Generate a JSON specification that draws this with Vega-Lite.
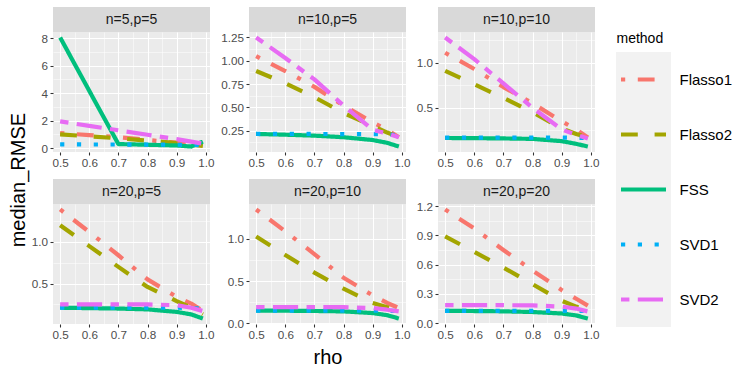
{
"$schema": "https://vega.github.io/schema/vega-lite/v6.json",
"autosize": {"type": "pad"},
"padding": {"left": 9, "top": 7, "right": 0, "bottom": 0},
"background": "white",
"config": {
  "font": "Liberation Sans",
  "view": {"stroke": null},
  "axis": {"domain": false, "tickColor": "#333333", "tickSize": 3, "tickWidth": 1.07, "labelColor": "#4D4D4D", "labelFontSize": 11.7, "labelPadding": 2.5, "labelFlush": false, "labelOverlap": false, "labelBound": false, "gridColor": "#FFFFFF", "titleFontWeight": "normal", "titleColor": "#000000", "titleFontSize": 20}
},
"datasets": {
  "panels": [{"panel": "n=5,p=5"}, {"panel": "n=10,p=5"}, {"panel": "n=10,p=10"}, {"panel": "n=20,p=5"}, {"panel": "n=20,p=10"}, {"panel": "n=20,p=20"}],
  "methods": [{"method": "Flasso1"}, {"method": "Flasso2"}, {"method": "FSS"}, {"method": "SVD1"}, {"method": "SVD2"}],
  "rmse": [
{"panel":"n=5,p=5","method":"Flasso1","rho":0.5,"median_RMSE":1.1},{"panel":"n=5,p=5","method":"Flasso1","rho":0.6,"median_RMSE":0.95},{"panel":"n=5,p=5","method":"Flasso1","rho":0.7,"median_RMSE":0.8},{"panel":"n=5,p=5","method":"Flasso1","rho":0.8,"median_RMSE":0.6},{"panel":"n=5,p=5","method":"Flasso1","rho":0.9,"median_RMSE":0.4},{"panel":"n=5,p=5","method":"Flasso1","rho":0.95,"median_RMSE":0.3},{"panel":"n=5,p=5","method":"Flasso1","rho":0.99,"median_RMSE":0.2},
{"panel":"n=5,p=5","method":"Flasso2","rho":0.5,"median_RMSE":1.0},{"panel":"n=5,p=5","method":"Flasso2","rho":0.6,"median_RMSE":0.87},{"panel":"n=5,p=5","method":"Flasso2","rho":0.7,"median_RMSE":0.72},{"panel":"n=5,p=5","method":"Flasso2","rho":0.8,"median_RMSE":0.55},{"panel":"n=5,p=5","method":"Flasso2","rho":0.9,"median_RMSE":0.38},{"panel":"n=5,p=5","method":"Flasso2","rho":0.95,"median_RMSE":0.27},{"panel":"n=5,p=5","method":"Flasso2","rho":0.99,"median_RMSE":0.17},
{"panel":"n=5,p=5","method":"FSS","rho":0.5,"median_RMSE":8.05},{"panel":"n=5,p=5","method":"FSS","rho":0.6,"median_RMSE":4.17},{"panel":"n=5,p=5","method":"FSS","rho":0.7,"median_RMSE":0.3},{"panel":"n=5,p=5","method":"FSS","rho":0.8,"median_RMSE":0.25},{"panel":"n=5,p=5","method":"FSS","rho":0.9,"median_RMSE":0.2},{"panel":"n=5,p=5","method":"FSS","rho":0.95,"median_RMSE":0.12},{"panel":"n=5,p=5","method":"FSS","rho":0.99,"median_RMSE":0.48},
{"panel":"n=5,p=5","method":"SVD1","rho":0.5,"median_RMSE":0.28},{"panel":"n=5,p=5","method":"SVD1","rho":0.6,"median_RMSE":0.27},{"panel":"n=5,p=5","method":"SVD1","rho":0.7,"median_RMSE":0.27},{"panel":"n=5,p=5","method":"SVD1","rho":0.8,"median_RMSE":0.26},{"panel":"n=5,p=5","method":"SVD1","rho":0.9,"median_RMSE":0.25},{"panel":"n=5,p=5","method":"SVD1","rho":0.95,"median_RMSE":0.24},{"panel":"n=5,p=5","method":"SVD1","rho":0.99,"median_RMSE":0.22},
{"panel":"n=5,p=5","method":"SVD2","rho":0.5,"median_RMSE":1.95},{"panel":"n=5,p=5","method":"SVD2","rho":0.6,"median_RMSE":1.62},{"panel":"n=5,p=5","method":"SVD2","rho":0.7,"median_RMSE":1.3},{"panel":"n=5,p=5","method":"SVD2","rho":0.8,"median_RMSE":0.98},{"panel":"n=5,p=5","method":"SVD2","rho":0.9,"median_RMSE":0.66},{"panel":"n=5,p=5","method":"SVD2","rho":0.95,"median_RMSE":0.48},{"panel":"n=5,p=5","method":"SVD2","rho":0.99,"median_RMSE":0.33},

{"panel":"n=10,p=5","method":"Flasso1","rho":0.5,"median_RMSE":1.05},{"panel":"n=10,p=5","method":"Flasso1","rho":0.6,"median_RMSE":0.89},{"panel":"n=10,p=5","method":"Flasso1","rho":0.7,"median_RMSE":0.72},{"panel":"n=10,p=5","method":"Flasso1","rho":0.8,"median_RMSE":0.52},{"panel":"n=10,p=5","method":"Flasso1","rho":0.9,"median_RMSE":0.34},{"panel":"n=10,p=5","method":"Flasso1","rho":0.95,"median_RMSE":0.26},{"panel":"n=10,p=5","method":"Flasso1","rho":0.99,"median_RMSE":0.18},
{"panel":"n=10,p=5","method":"Flasso2","rho":0.5,"median_RMSE":0.89},{"panel":"n=10,p=5","method":"Flasso2","rho":0.6,"median_RMSE":0.76},{"panel":"n=10,p=5","method":"Flasso2","rho":0.7,"median_RMSE":0.61},{"panel":"n=10,p=5","method":"Flasso2","rho":0.8,"median_RMSE":0.44},{"panel":"n=10,p=5","method":"Flasso2","rho":0.9,"median_RMSE":0.3},{"panel":"n=10,p=5","method":"Flasso2","rho":0.95,"median_RMSE":0.23},{"panel":"n=10,p=5","method":"Flasso2","rho":0.99,"median_RMSE":0.18},
{"panel":"n=10,p=5","method":"FSS","rho":0.5,"median_RMSE":0.215},{"panel":"n=10,p=5","method":"FSS","rho":0.6,"median_RMSE":0.207},{"panel":"n=10,p=5","method":"FSS","rho":0.7,"median_RMSE":0.197},{"panel":"n=10,p=5","method":"FSS","rho":0.8,"median_RMSE":0.18},{"panel":"n=10,p=5","method":"FSS","rho":0.9,"median_RMSE":0.15},{"panel":"n=10,p=5","method":"FSS","rho":0.95,"median_RMSE":0.12},{"panel":"n=10,p=5","method":"FSS","rho":0.99,"median_RMSE":0.08},
{"panel":"n=10,p=5","method":"SVD1","rho":0.5,"median_RMSE":0.215},{"panel":"n=10,p=5","method":"SVD1","rho":0.6,"median_RMSE":0.215},{"panel":"n=10,p=5","method":"SVD1","rho":0.7,"median_RMSE":0.215},{"panel":"n=10,p=5","method":"SVD1","rho":0.8,"median_RMSE":0.214},{"panel":"n=10,p=5","method":"SVD1","rho":0.9,"median_RMSE":0.213},{"panel":"n=10,p=5","method":"SVD1","rho":0.95,"median_RMSE":0.21},{"panel":"n=10,p=5","method":"SVD1","rho":0.99,"median_RMSE":0.2},
{"panel":"n=10,p=5","method":"SVD2","rho":0.5,"median_RMSE":1.25},{"panel":"n=10,p=5","method":"SVD2","rho":0.6,"median_RMSE":1.03},{"panel":"n=10,p=5","method":"SVD2","rho":0.7,"median_RMSE":0.8},{"panel":"n=10,p=5","method":"SVD2","rho":0.8,"median_RMSE":0.52},{"panel":"n=10,p=5","method":"SVD2","rho":0.9,"median_RMSE":0.26},{"panel":"n=10,p=5","method":"SVD2","rho":0.95,"median_RMSE":0.22},{"panel":"n=10,p=5","method":"SVD2","rho":0.99,"median_RMSE":0.18},

{"panel":"n=10,p=10","method":"Flasso1","rho":0.5,"median_RMSE":1.11},{"panel":"n=10,p=10","method":"Flasso1","rho":0.6,"median_RMSE":0.93},{"panel":"n=10,p=10","method":"Flasso1","rho":0.7,"median_RMSE":0.73},{"panel":"n=10,p=10","method":"Flasso1","rho":0.8,"median_RMSE":0.55},{"panel":"n=10,p=10","method":"Flasso1","rho":0.9,"median_RMSE":0.35},{"panel":"n=10,p=10","method":"Flasso1","rho":0.95,"median_RMSE":0.26},{"panel":"n=10,p=10","method":"Flasso1","rho":0.99,"median_RMSE":0.17},
{"panel":"n=10,p=10","method":"Flasso2","rho":0.5,"median_RMSE":0.91},{"panel":"n=10,p=10","method":"Flasso2","rho":0.6,"median_RMSE":0.76},{"panel":"n=10,p=10","method":"Flasso2","rho":0.7,"median_RMSE":0.61},{"panel":"n=10,p=10","method":"Flasso2","rho":0.8,"median_RMSE":0.45},{"panel":"n=10,p=10","method":"Flasso2","rho":0.9,"median_RMSE":0.27},{"panel":"n=10,p=10","method":"Flasso2","rho":0.95,"median_RMSE":0.21},{"panel":"n=10,p=10","method":"Flasso2","rho":0.99,"median_RMSE":0.17},
{"panel":"n=10,p=10","method":"FSS","rho":0.5,"median_RMSE":0.165},{"panel":"n=10,p=10","method":"FSS","rho":0.6,"median_RMSE":0.163},{"panel":"n=10,p=10","method":"FSS","rho":0.7,"median_RMSE":0.16},{"panel":"n=10,p=10","method":"FSS","rho":0.8,"median_RMSE":0.155},{"panel":"n=10,p=10","method":"FSS","rho":0.9,"median_RMSE":0.13},{"panel":"n=10,p=10","method":"FSS","rho":0.95,"median_RMSE":0.1},{"panel":"n=10,p=10","method":"FSS","rho":0.99,"median_RMSE":0.07},
{"panel":"n=10,p=10","method":"SVD1","rho":0.5,"median_RMSE":0.17},{"panel":"n=10,p=10","method":"SVD1","rho":0.6,"median_RMSE":0.17},{"panel":"n=10,p=10","method":"SVD1","rho":0.7,"median_RMSE":0.17},{"panel":"n=10,p=10","method":"SVD1","rho":0.8,"median_RMSE":0.17},{"panel":"n=10,p=10","method":"SVD1","rho":0.9,"median_RMSE":0.17},{"panel":"n=10,p=10","method":"SVD1","rho":0.95,"median_RMSE":0.168},{"panel":"n=10,p=10","method":"SVD1","rho":0.99,"median_RMSE":0.165},
{"panel":"n=10,p=10","method":"SVD2","rho":0.5,"median_RMSE":1.28},{"panel":"n=10,p=10","method":"SVD2","rho":0.6,"median_RMSE":1.04},{"panel":"n=10,p=10","method":"SVD2","rho":0.7,"median_RMSE":0.77},{"panel":"n=10,p=10","method":"SVD2","rho":0.8,"median_RMSE":0.5},{"panel":"n=10,p=10","method":"SVD2","rho":0.9,"median_RMSE":0.26},{"panel":"n=10,p=10","method":"SVD2","rho":0.95,"median_RMSE":0.2},{"panel":"n=10,p=10","method":"SVD2","rho":0.99,"median_RMSE":0.16},

{"panel":"n=20,p=5","method":"Flasso1","rho":0.5,"median_RMSE":1.39},{"panel":"n=20,p=5","method":"Flasso1","rho":0.6,"median_RMSE":1.12},{"panel":"n=20,p=5","method":"Flasso1","rho":0.7,"median_RMSE":0.84},{"panel":"n=20,p=5","method":"Flasso1","rho":0.8,"median_RMSE":0.55},{"panel":"n=20,p=5","method":"Flasso1","rho":0.9,"median_RMSE":0.34},{"panel":"n=20,p=5","method":"Flasso1","rho":0.95,"median_RMSE":0.26},{"panel":"n=20,p=5","method":"Flasso1","rho":0.99,"median_RMSE":0.17},
{"panel":"n=20,p=5","method":"Flasso2","rho":0.5,"median_RMSE":1.2},{"panel":"n=20,p=5","method":"Flasso2","rho":0.6,"median_RMSE":0.95},{"panel":"n=20,p=5","method":"Flasso2","rho":0.7,"median_RMSE":0.7},{"panel":"n=20,p=5","method":"Flasso2","rho":0.8,"median_RMSE":0.46},{"panel":"n=20,p=5","method":"Flasso2","rho":0.9,"median_RMSE":0.29},{"panel":"n=20,p=5","method":"Flasso2","rho":0.95,"median_RMSE":0.21},{"panel":"n=20,p=5","method":"Flasso2","rho":0.99,"median_RMSE":0.13},
{"panel":"n=20,p=5","method":"FSS","rho":0.5,"median_RMSE":0.21},{"panel":"n=20,p=5","method":"FSS","rho":0.6,"median_RMSE":0.205},{"panel":"n=20,p=5","method":"FSS","rho":0.7,"median_RMSE":0.2},{"panel":"n=20,p=5","method":"FSS","rho":0.8,"median_RMSE":0.19},{"panel":"n=20,p=5","method":"FSS","rho":0.9,"median_RMSE":0.16},{"panel":"n=20,p=5","method":"FSS","rho":0.95,"median_RMSE":0.13},{"panel":"n=20,p=5","method":"FSS","rho":0.99,"median_RMSE":0.08},
{"panel":"n=20,p=5","method":"SVD1","rho":0.5,"median_RMSE":0.21},{"panel":"n=20,p=5","method":"SVD1","rho":0.6,"median_RMSE":0.21},{"panel":"n=20,p=5","method":"SVD1","rho":0.7,"median_RMSE":0.21},{"panel":"n=20,p=5","method":"SVD1","rho":0.8,"median_RMSE":0.21},{"panel":"n=20,p=5","method":"SVD1","rho":0.9,"median_RMSE":0.21},{"panel":"n=20,p=5","method":"SVD1","rho":0.95,"median_RMSE":0.205},{"panel":"n=20,p=5","method":"SVD1","rho":0.99,"median_RMSE":0.2},
{"panel":"n=20,p=5","method":"SVD2","rho":0.5,"median_RMSE":0.25},{"panel":"n=20,p=5","method":"SVD2","rho":0.6,"median_RMSE":0.25},{"panel":"n=20,p=5","method":"SVD2","rho":0.7,"median_RMSE":0.25},{"panel":"n=20,p=5","method":"SVD2","rho":0.8,"median_RMSE":0.25},{"panel":"n=20,p=5","method":"SVD2","rho":0.9,"median_RMSE":0.24},{"panel":"n=20,p=5","method":"SVD2","rho":0.95,"median_RMSE":0.21},{"panel":"n=20,p=5","method":"SVD2","rho":0.99,"median_RMSE":0.17},

{"panel":"n=20,p=10","method":"Flasso1","rho":0.5,"median_RMSE":1.35},{"panel":"n=20,p=10","method":"Flasso1","rho":0.6,"median_RMSE":1.09},{"panel":"n=20,p=10","method":"Flasso1","rho":0.7,"median_RMSE":0.82},{"panel":"n=20,p=10","method":"Flasso1","rho":0.8,"median_RMSE":0.54},{"panel":"n=20,p=10","method":"Flasso1","rho":0.9,"median_RMSE":0.33},{"panel":"n=20,p=10","method":"Flasso1","rho":0.95,"median_RMSE":0.24},{"panel":"n=20,p=10","method":"Flasso1","rho":0.99,"median_RMSE":0.18},
{"panel":"n=20,p=10","method":"Flasso2","rho":0.5,"median_RMSE":1.03},{"panel":"n=20,p=10","method":"Flasso2","rho":0.6,"median_RMSE":0.81},{"panel":"n=20,p=10","method":"Flasso2","rho":0.7,"median_RMSE":0.6},{"panel":"n=20,p=10","method":"Flasso2","rho":0.8,"median_RMSE":0.41},{"panel":"n=20,p=10","method":"Flasso2","rho":0.9,"median_RMSE":0.24},{"panel":"n=20,p=10","method":"Flasso2","rho":0.95,"median_RMSE":0.19},{"panel":"n=20,p=10","method":"Flasso2","rho":0.99,"median_RMSE":0.15},
{"panel":"n=20,p=10","method":"FSS","rho":0.5,"median_RMSE":0.15},{"panel":"n=20,p=10","method":"FSS","rho":0.6,"median_RMSE":0.148},{"panel":"n=20,p=10","method":"FSS","rho":0.7,"median_RMSE":0.145},{"panel":"n=20,p=10","method":"FSS","rho":0.8,"median_RMSE":0.14},{"panel":"n=20,p=10","method":"FSS","rho":0.9,"median_RMSE":0.12},{"panel":"n=20,p=10","method":"FSS","rho":0.95,"median_RMSE":0.095},{"panel":"n=20,p=10","method":"FSS","rho":0.99,"median_RMSE":0.055},
{"panel":"n=20,p=10","method":"SVD1","rho":0.5,"median_RMSE":0.15},{"panel":"n=20,p=10","method":"SVD1","rho":0.6,"median_RMSE":0.15},{"panel":"n=20,p=10","method":"SVD1","rho":0.7,"median_RMSE":0.15},{"panel":"n=20,p=10","method":"SVD1","rho":0.8,"median_RMSE":0.15},{"panel":"n=20,p=10","method":"SVD1","rho":0.9,"median_RMSE":0.15},{"panel":"n=20,p=10","method":"SVD1","rho":0.95,"median_RMSE":0.148},{"panel":"n=20,p=10","method":"SVD1","rho":0.99,"median_RMSE":0.145},
{"panel":"n=20,p=10","method":"SVD2","rho":0.5,"median_RMSE":0.19},{"panel":"n=20,p=10","method":"SVD2","rho":0.6,"median_RMSE":0.19},{"panel":"n=20,p=10","method":"SVD2","rho":0.7,"median_RMSE":0.19},{"panel":"n=20,p=10","method":"SVD2","rho":0.8,"median_RMSE":0.19},{"panel":"n=20,p=10","method":"SVD2","rho":0.9,"median_RMSE":0.18},{"panel":"n=20,p=10","method":"SVD2","rho":0.95,"median_RMSE":0.16},{"panel":"n=20,p=10","method":"SVD2","rho":0.99,"median_RMSE":0.14},

{"panel":"n=20,p=20","method":"Flasso1","rho":0.5,"median_RMSE":1.165},{"panel":"n=20,p=20","method":"Flasso1","rho":0.6,"median_RMSE":0.97},{"panel":"n=20,p=20","method":"Flasso1","rho":0.7,"median_RMSE":0.75},{"panel":"n=20,p=20","method":"Flasso1","rho":0.8,"median_RMSE":0.54},{"panel":"n=20,p=20","method":"Flasso1","rho":0.9,"median_RMSE":0.34},{"panel":"n=20,p=20","method":"Flasso1","rho":0.95,"median_RMSE":0.25},{"panel":"n=20,p=20","method":"Flasso1","rho":0.99,"median_RMSE":0.18},
{"panel":"n=20,p=20","method":"Flasso2","rho":0.5,"median_RMSE":0.89},{"panel":"n=20,p=20","method":"Flasso2","rho":0.6,"median_RMSE":0.73},{"panel":"n=20,p=20","method":"Flasso2","rho":0.7,"median_RMSE":0.57},{"panel":"n=20,p=20","method":"Flasso2","rho":0.8,"median_RMSE":0.4},{"panel":"n=20,p=20","method":"Flasso2","rho":0.9,"median_RMSE":0.23},{"panel":"n=20,p=20","method":"Flasso2","rho":0.95,"median_RMSE":0.17},{"panel":"n=20,p=20","method":"Flasso2","rho":0.99,"median_RMSE":0.14},
{"panel":"n=20,p=20","method":"FSS","rho":0.5,"median_RMSE":0.127},{"panel":"n=20,p=20","method":"FSS","rho":0.6,"median_RMSE":0.125},{"panel":"n=20,p=20","method":"FSS","rho":0.7,"median_RMSE":0.122},{"panel":"n=20,p=20","method":"FSS","rho":0.8,"median_RMSE":0.115},{"panel":"n=20,p=20","method":"FSS","rho":0.9,"median_RMSE":0.1},{"panel":"n=20,p=20","method":"FSS","rho":0.95,"median_RMSE":0.08},{"panel":"n=20,p=20","method":"FSS","rho":0.99,"median_RMSE":0.048},
{"panel":"n=20,p=20","method":"SVD1","rho":0.5,"median_RMSE":0.127},{"panel":"n=20,p=20","method":"SVD1","rho":0.6,"median_RMSE":0.127},{"panel":"n=20,p=20","method":"SVD1","rho":0.7,"median_RMSE":0.127},{"panel":"n=20,p=20","method":"SVD1","rho":0.8,"median_RMSE":0.127},{"panel":"n=20,p=20","method":"SVD1","rho":0.9,"median_RMSE":0.127},{"panel":"n=20,p=20","method":"SVD1","rho":0.95,"median_RMSE":0.126},{"panel":"n=20,p=20","method":"SVD1","rho":0.99,"median_RMSE":0.125},
{"panel":"n=20,p=20","method":"SVD2","rho":0.5,"median_RMSE":0.185},{"panel":"n=20,p=20","method":"SVD2","rho":0.6,"median_RMSE":0.185},{"panel":"n=20,p=20","method":"SVD2","rho":0.7,"median_RMSE":0.185},{"panel":"n=20,p=20","method":"SVD2","rho":0.8,"median_RMSE":0.183},{"panel":"n=20,p=20","method":"SVD2","rho":0.9,"median_RMSE":0.17},{"panel":"n=20,p=20","method":"SVD2","rho":0.95,"median_RMSE":0.15},{"panel":"n=20,p=20","method":"SVD2","rho":0.99,"median_RMSE":0.12}
  ]
},
"title": {"text": "median_RMSE", "orient": "left", "anchor": "middle", "fontSize": 20, "fontWeight": "normal", "color": "#000000", "offset": 2, "dx": 7},
"spacing": 17,
"hconcat": [
{
  "columns": 3,
  "spacing": {"column": 6, "row": 9},
  "concat": [
    {"spacing": 0, "bounds": "flush", "vconcat": [
      {"data": {"name": "panels"}, "transform": [{"filter": "datum.panel === 'n=5,p=5'"}], "width": 157, "height": 25, "view": {"fill": "#D9D9D9", "stroke": null}, "mark": {"type": "text", "fontSize": 14, "color": "#1A1A1A", "baseline": "middle"}, "encoding": {"text": {"field": "panel"}}},
      {"data": {"name": "rmse"}, "transform": [{"filter": "datum.panel === 'n=5,p=5'"}], "width": 157, "height": 120, "view": {"fill": "#EBEBEB", "stroke": null},
       "mark": {"type": "line", "strokeWidth": 4.2, "strokeCap": "butt", "strokeJoin": "round"},
       "encoding": {
        "x": {"field": "rho", "type": "quantitative", "scale": {"zero": false, "nice": false, "padding": 7.14}, "axis": {"title": null, "values": [0.5,0.55,0.6,0.65,0.7,0.75,0.8,0.85,0.9,0.95,1.0], "labelExpr": "abs(datum.value*10-round(datum.value*10))<0.001 ? format(datum.value,'.1f') : ''", "gridWidth": {"condition": {"test": "abs(datum.value*10-round(datum.value*10))<0.001", "value": 1.07}, "value": 0.53}, "tickOpacity": {"condition": {"test": "abs(datum.value*10-round(datum.value*10))<0.001", "value": 1}, "value": 0}}},
        "y": {"field": "median_RMSE", "type": "quantitative", "scale": {"zero": false, "nice": false, "padding": 5.45}, "axis": {"title": null, "values": [0,1,2,3,4,5,6,7,8], "labelExpr": "datum.value % 2 == 0 ? format(datum.value,'d') : ''", "gridWidth": {"condition": {"test": "datum.value % 2 == 0", "value": 1.07}, "value": 0.53}, "tickOpacity": {"condition": {"test": "datum.value % 2 == 0", "value": 1}, "value": 0}}},
        "color": {"field": "method", "type": "nominal", "scale": {"domain": ["Flasso1","Flasso2","FSS","SVD1","SVD2"], "range": ["#F8766D","#A3A500","#00BF7D","#00B0F6","#E76BF3"]}, "legend": null},
        "strokeDash": {"field": "method", "type": "nominal", "scale": {"domain": ["Flasso1","Flasso2","FSS","SVD1","SVD2"], "range": [[4.2,12.6,16.8,12.6],[16.8,16.8],[1,0],[4.2,12.6],[8.4,8.4,25.2,8.4]]}, "legend": null}
       }}
    ]},
    {"spacing": 0, "bounds": "flush", "vconcat": [
      {"data": {"name": "panels"}, "transform": [{"filter": "datum.panel === 'n=10,p=5'"}], "width": 157, "height": 25, "view": {"fill": "#D9D9D9", "stroke": null}, "mark": {"type": "text", "fontSize": 14, "color": "#1A1A1A", "baseline": "middle"}, "encoding": {"text": {"field": "panel"}}},
      {"data": {"name": "rmse"}, "transform": [{"filter": "datum.panel === 'n=10,p=5'"}], "width": 157, "height": 120, "view": {"fill": "#EBEBEB", "stroke": null},
       "mark": {"type": "line", "strokeWidth": 4.2, "strokeCap": "butt", "strokeJoin": "round"},
       "encoding": {
        "x": {"field": "rho", "type": "quantitative", "scale": {"zero": false, "nice": false, "padding": 7.14}, "axis": {"title": null, "values": [0.5,0.55,0.6,0.65,0.7,0.75,0.8,0.85,0.9,0.95,1.0], "labelExpr": "abs(datum.value*10-round(datum.value*10))<0.001 ? format(datum.value,'.1f') : ''", "gridWidth": {"condition": {"test": "abs(datum.value*10-round(datum.value*10))<0.001", "value": 1.07}, "value": 0.53}, "tickOpacity": {"condition": {"test": "abs(datum.value*10-round(datum.value*10))<0.001", "value": 1}, "value": 0}}},
        "y": {"field": "median_RMSE", "type": "quantitative", "scale": {"zero": false, "nice": false, "padding": 5.45}, "axis": {"title": null, "values": [0.125,0.25,0.375,0.5,0.625,0.75,0.875,1.0,1.125,1.25], "labelExpr": "abs(datum.value*4-round(datum.value*4))<0.001 ? format(datum.value,'.2f') : ''", "gridWidth": {"condition": {"test": "abs(datum.value*4-round(datum.value*4))<0.001", "value": 1.07}, "value": 0.53}, "tickOpacity": {"condition": {"test": "abs(datum.value*4-round(datum.value*4))<0.001", "value": 1}, "value": 0}}},
        "color": {"field": "method", "type": "nominal", "scale": {"domain": ["Flasso1","Flasso2","FSS","SVD1","SVD2"], "range": ["#F8766D","#A3A500","#00BF7D","#00B0F6","#E76BF3"]}, "legend": null},
        "strokeDash": {"field": "method", "type": "nominal", "scale": {"domain": ["Flasso1","Flasso2","FSS","SVD1","SVD2"], "range": [[4.2,12.6,16.8,12.6],[16.8,16.8],[1,0],[4.2,12.6],[8.4,8.4,25.2,8.4]]}, "legend": null}
       }}
    ]},
    {"spacing": 0, "bounds": "flush", "vconcat": [
      {"data": {"name": "panels"}, "transform": [{"filter": "datum.panel === 'n=10,p=10'"}], "width": 157, "height": 25, "view": {"fill": "#D9D9D9", "stroke": null}, "mark": {"type": "text", "fontSize": 14, "color": "#1A1A1A", "baseline": "middle"}, "encoding": {"text": {"field": "panel"}}},
      {"data": {"name": "rmse"}, "transform": [{"filter": "datum.panel === 'n=10,p=10'"}], "width": 157, "height": 120, "view": {"fill": "#EBEBEB", "stroke": null},
       "mark": {"type": "line", "strokeWidth": 4.2, "strokeCap": "butt", "strokeJoin": "round"},
       "encoding": {
        "x": {"field": "rho", "type": "quantitative", "scale": {"zero": false, "nice": false, "padding": 7.14}, "axis": {"title": null, "values": [0.5,0.55,0.6,0.65,0.7,0.75,0.8,0.85,0.9,0.95,1.0], "labelExpr": "abs(datum.value*10-round(datum.value*10))<0.001 ? format(datum.value,'.1f') : ''", "gridWidth": {"condition": {"test": "abs(datum.value*10-round(datum.value*10))<0.001", "value": 1.07}, "value": 0.53}, "tickOpacity": {"condition": {"test": "abs(datum.value*10-round(datum.value*10))<0.001", "value": 1}, "value": 0}}},
        "y": {"field": "median_RMSE", "type": "quantitative", "scale": {"zero": false, "nice": false, "padding": 5.45}, "axis": {"title": null, "values": [0.25,0.5,0.75,1.0,1.25], "labelExpr": "abs(datum.value*2-round(datum.value*2))<0.001 ? format(datum.value,'.1f') : ''", "gridWidth": {"condition": {"test": "abs(datum.value*2-round(datum.value*2))<0.001", "value": 1.07}, "value": 0.53}, "tickOpacity": {"condition": {"test": "abs(datum.value*2-round(datum.value*2))<0.001", "value": 1}, "value": 0}}},
        "color": {"field": "method", "type": "nominal", "scale": {"domain": ["Flasso1","Flasso2","FSS","SVD1","SVD2"], "range": ["#F8766D","#A3A500","#00BF7D","#00B0F6","#E76BF3"]}, "legend": null},
        "strokeDash": {"field": "method", "type": "nominal", "scale": {"domain": ["Flasso1","Flasso2","FSS","SVD1","SVD2"], "range": [[4.2,12.6,16.8,12.6],[16.8,16.8],[1,0],[4.2,12.6],[8.4,8.4,25.2,8.4]]}, "legend": null}
       }}
    ]},
    {"spacing": 0, "bounds": "flush", "vconcat": [
      {"data": {"name": "panels"}, "transform": [{"filter": "datum.panel === 'n=20,p=5'"}], "width": 157, "height": 25, "view": {"fill": "#D9D9D9", "stroke": null}, "mark": {"type": "text", "fontSize": 14, "color": "#1A1A1A", "baseline": "middle"}, "encoding": {"text": {"field": "panel"}}},
      {"data": {"name": "rmse"}, "transform": [{"filter": "datum.panel === 'n=20,p=5'"}], "width": 157, "height": 120, "view": {"fill": "#EBEBEB", "stroke": null},
       "mark": {"type": "line", "strokeWidth": 4.2, "strokeCap": "butt", "strokeJoin": "round"},
       "encoding": {
        "x": {"field": "rho", "type": "quantitative", "scale": {"zero": false, "nice": false, "padding": 7.14}, "axis": {"title": null, "values": [0.5,0.55,0.6,0.65,0.7,0.75,0.8,0.85,0.9,0.95,1.0], "labelExpr": "abs(datum.value*10-round(datum.value*10))<0.001 ? format(datum.value,'.1f') : ''", "gridWidth": {"condition": {"test": "abs(datum.value*10-round(datum.value*10))<0.001", "value": 1.07}, "value": 0.53}, "tickOpacity": {"condition": {"test": "abs(datum.value*10-round(datum.value*10))<0.001", "value": 1}, "value": 0}}},
        "y": {"field": "median_RMSE", "type": "quantitative", "scale": {"zero": false, "nice": false, "padding": 5.45}, "axis": {"title": null, "values": [0.25,0.5,0.75,1.0,1.25], "labelExpr": "abs(datum.value*2-round(datum.value*2))<0.001 ? format(datum.value,'.1f') : ''", "gridWidth": {"condition": {"test": "abs(datum.value*2-round(datum.value*2))<0.001", "value": 1.07}, "value": 0.53}, "tickOpacity": {"condition": {"test": "abs(datum.value*2-round(datum.value*2))<0.001", "value": 1}, "value": 0}}},
        "color": {"field": "method", "type": "nominal", "scale": {"domain": ["Flasso1","Flasso2","FSS","SVD1","SVD2"], "range": ["#F8766D","#A3A500","#00BF7D","#00B0F6","#E76BF3"]}, "legend": null},
        "strokeDash": {"field": "method", "type": "nominal", "scale": {"domain": ["Flasso1","Flasso2","FSS","SVD1","SVD2"], "range": [[4.2,12.6,16.8,12.6],[16.8,16.8],[1,0],[4.2,12.6],[8.4,8.4,25.2,8.4]]}, "legend": null}
       }}
    ]},
    {"spacing": 0, "bounds": "flush", "vconcat": [
      {"data": {"name": "panels"}, "transform": [{"filter": "datum.panel === 'n=20,p=10'"}], "width": 157, "height": 25, "view": {"fill": "#D9D9D9", "stroke": null}, "mark": {"type": "text", "fontSize": 14, "color": "#1A1A1A", "baseline": "middle"}, "encoding": {"text": {"field": "panel"}}},
      {"data": {"name": "rmse"}, "transform": [{"filter": "datum.panel === 'n=20,p=10'"}], "width": 157, "height": 120, "view": {"fill": "#EBEBEB", "stroke": null},
       "mark": {"type": "line", "strokeWidth": 4.2, "strokeCap": "butt", "strokeJoin": "round"},
       "encoding": {
        "x": {"field": "rho", "type": "quantitative", "scale": {"zero": false, "nice": false, "padding": 7.14}, "axis": {"title": "rho", "titlePadding": 6, "values": [0.5,0.55,0.6,0.65,0.7,0.75,0.8,0.85,0.9,0.95,1.0], "labelExpr": "abs(datum.value*10-round(datum.value*10))<0.001 ? format(datum.value,'.1f') : ''", "gridWidth": {"condition": {"test": "abs(datum.value*10-round(datum.value*10))<0.001", "value": 1.07}, "value": 0.53}, "tickOpacity": {"condition": {"test": "abs(datum.value*10-round(datum.value*10))<0.001", "value": 1}, "value": 0}}},
        "y": {"field": "median_RMSE", "type": "quantitative", "scale": {"zero": false, "nice": false, "padding": 5.45}, "axis": {"title": null, "values": [0,0.25,0.5,0.75,1.0,1.25], "labelExpr": "abs(datum.value*2-round(datum.value*2))<0.001 ? format(datum.value,'.1f') : ''", "gridWidth": {"condition": {"test": "abs(datum.value*2-round(datum.value*2))<0.001", "value": 1.07}, "value": 0.53}, "tickOpacity": {"condition": {"test": "abs(datum.value*2-round(datum.value*2))<0.001", "value": 1}, "value": 0}}},
        "color": {"field": "method", "type": "nominal", "scale": {"domain": ["Flasso1","Flasso2","FSS","SVD1","SVD2"], "range": ["#F8766D","#A3A500","#00BF7D","#00B0F6","#E76BF3"]}, "legend": null},
        "strokeDash": {"field": "method", "type": "nominal", "scale": {"domain": ["Flasso1","Flasso2","FSS","SVD1","SVD2"], "range": [[4.2,12.6,16.8,12.6],[16.8,16.8],[1,0],[4.2,12.6],[8.4,8.4,25.2,8.4]]}, "legend": null}
       }}
    ]},
    {"spacing": 0, "bounds": "flush", "vconcat": [
      {"data": {"name": "panels"}, "transform": [{"filter": "datum.panel === 'n=20,p=20'"}], "width": 157, "height": 25, "view": {"fill": "#D9D9D9", "stroke": null}, "mark": {"type": "text", "fontSize": 14, "color": "#1A1A1A", "baseline": "middle"}, "encoding": {"text": {"field": "panel"}}},
      {"data": {"name": "rmse"}, "transform": [{"filter": "datum.panel === 'n=20,p=20'"}], "width": 157, "height": 120, "view": {"fill": "#EBEBEB", "stroke": null},
       "mark": {"type": "line", "strokeWidth": 4.2, "strokeCap": "butt", "strokeJoin": "round"},
       "encoding": {
        "x": {"field": "rho", "type": "quantitative", "scale": {"zero": false, "nice": false, "padding": 7.14}, "axis": {"title": null, "values": [0.5,0.55,0.6,0.65,0.7,0.75,0.8,0.85,0.9,0.95,1.0], "labelExpr": "abs(datum.value*10-round(datum.value*10))<0.001 ? format(datum.value,'.1f') : ''", "gridWidth": {"condition": {"test": "abs(datum.value*10-round(datum.value*10))<0.001", "value": 1.07}, "value": 0.53}, "tickOpacity": {"condition": {"test": "abs(datum.value*10-round(datum.value*10))<0.001", "value": 1}, "value": 0}}},
        "y": {"field": "median_RMSE", "type": "quantitative", "scale": {"zero": false, "nice": false, "padding": 5.45}, "axis": {"title": null, "values": [0,0.15,0.3,0.45,0.6,0.75,0.9,1.05,1.2], "labelExpr": "abs(datum.value/0.3-round(datum.value/0.3))<0.001 ? format(datum.value,'.1f') : ''", "gridWidth": {"condition": {"test": "abs(datum.value/0.3-round(datum.value/0.3))<0.001", "value": 1.07}, "value": 0.53}, "tickOpacity": {"condition": {"test": "abs(datum.value/0.3-round(datum.value/0.3))<0.001", "value": 1}, "value": 0}}},
        "color": {"field": "method", "type": "nominal", "scale": {"domain": ["Flasso1","Flasso2","FSS","SVD1","SVD2"], "range": ["#F8766D","#A3A500","#00BF7D","#00B0F6","#E76BF3"]}, "legend": null},
        "strokeDash": {"field": "method", "type": "nominal", "scale": {"domain": ["Flasso1","Flasso2","FSS","SVD1","SVD2"], "range": [[4.2,12.6,16.8,12.6],[16.8,16.8],[1,0],[4.2,12.6],[8.4,8.4,25.2,8.4]]}, "legend": null}
       }}
    ]}
  ]
},
{
  "spacing": 0, "bounds": "flush",
  "vconcat": [
    {"data": {"values": []}, "width": 55, "height": 45, "mark": "text", "encoding": {}},
    {"data": {"name": "methods"}, "width": 55, "height": 275, "view": {"fill": "#F2F2F2", "stroke": null},
     "mark": {"type": "rule", "strokeWidth": 4.2, "strokeCap": "butt"},
     "encoding": {
       "y": {"field": "method", "type": "nominal", "scale": {"type": "point", "padding": 0.5, "domain": ["Flasso1","Flasso2","FSS","SVD1","SVD2"]}, "axis": {"orient": "right", "title": null, "domain": false, "ticks": false, "grid": false, "labelPadding": 8, "labelFontSize": 15, "labelColor": "#000000"}},
       "x": {"datum": 0, "type": "quantitative", "scale": {"domain": [-0.111, 1.111], "nice": false, "zero": false}, "axis": {"orient": "top", "title": "method", "titleFontSize": 14, "titleAnchor": "start", "titleAlign": "left", "titlePadding": 7, "labels": false, "ticks": false, "domain": false, "grid": false}},
       "x2": {"datum": 1},
       "color": {"field": "method", "type": "nominal", "scale": {"domain": ["Flasso1","Flasso2","FSS","SVD1","SVD2"], "range": ["#F8766D","#A3A500","#00BF7D","#00B0F6","#E76BF3"]}, "legend": null},
       "strokeDash": {"field": "method", "type": "nominal", "scale": {"domain": ["Flasso1","Flasso2","FSS","SVD1","SVD2"], "range": [[4.2,12.6,16.8,12.6],[16.8,16.8],[1,0],[4.2,12.6],[8.4,8.4,25.2,8.4]]}, "legend": null}
     }}
  ]
}
]
}
